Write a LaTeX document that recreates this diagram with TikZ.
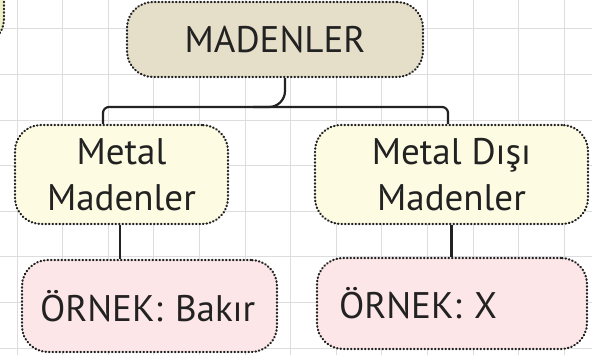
\documentclass[tikz,border=0pt]{standalone}
\usepackage{fontspec}
\setmainfont{PT Sans}
\usetikzlibrary{positioning,calc}
\definecolor{gridline}{HTML}{DDDDDD}
\definecolor{ink}{HTML}{222222}
\definecolor{rootFill}{HTML}{E5DEC8}
\definecolor{groupFill}{HTML}{FDFBE2}
\definecolor{sampleFill}{HTML}{FCE6E8}
\definecolor{edgeFill}{HTML}{EEF1C6}

\begin{document}
\begin{tikzpicture}[
  x=1pt, y=-1pt,
  font=\fontsize{37}{46}\selectfont,
  box/.style={draw=ink, line width=2.2pt, line cap=round,
    dash pattern=on 0.6pt off 2.9pt, rounded corners=26pt,
    align=center, inner sep=0pt, text=ink},
  rootbox/.style={box, fill=rootFill},
  groupbox/.style={box, fill=groupFill},
  samplebox/.style={box, fill=sampleFill, align=left},
  wire/.style={draw=ink, line width=2.2pt}
]
  \useasboundingbox (0,0) rectangle (592,355);
  \begin{scope}
    \clip (0,0) rectangle (592,355);
    % background grid
    \foreach \k in {0,...,12} \draw[gridline, line width=1pt] (17+45.6*\k,0) -- (17+45.6*\k,355);
    \foreach \k in {0,...,7} \draw[gridline, line width=1pt] (0,29+45.6*\k) -- (592,29+45.6*\k);
    % cut-off box at the edge
    \node[box, fill=edgeFill, minimum width=110pt, minimum height=70pt] (edge) at (-51,10) {};
  \end{scope}

  \node[rootbox, minimum width=296pt, minimum height=75pt] (root) at (275,39.5) {MADENLER};
  \node[groupbox, minimum width=213pt, minimum height=99pt] (lgroup) at (121.5,174.5) {Metal\\Madenler};
  \node[groupbox, minimum width=273pt, minimum height=99pt] (rgroup) at (451.5,174.5) {Metal Dışı\\Madenler};
  \node[samplebox, minimum height=92pt, text width=219pt, inner xsep=18pt] (lsample) at (149.5,306) {ÖRNEK: Bakır};
  \node[samplebox, minimum height=91pt, text width=226pt, inner xsep=22pt] (rsample) at (452,303.5) {ÖRNEK: X};

  \coordinate (busL) at (103,107);
  \coordinate (busR) at (448,107);
  \coordinate (drop) at (285,107);
  \draw[wire, rounded corners=6pt] (lgroup.north -| busL) |- (busR) -- (rgroup.north -| busR);
  \draw[wire, rounded corners=16pt] (root.south -| drop) |- ($(drop)+(-32,0)$);
  \draw[wire] (lgroup.south -| 120,0) -- (lsample.north -| 120,0);
  \draw[wire] (rgroup.south) -- (rsample.north -| rgroup.south);
\end{tikzpicture}
\end{document}
